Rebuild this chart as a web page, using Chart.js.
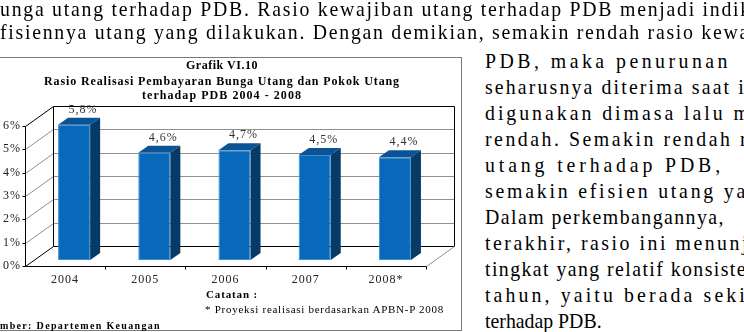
<!DOCTYPE html>
<html>
<head>
<meta charset="utf-8">
<script src="https://cdn.jsdelivr.net/npm/chart.js@4"></script>
<style>
  html, body { margin: 0; padding: 0; background: #fff; }
  body { width: 744px; height: 332px; position: relative; overflow: hidden; }
  .t { position: absolute; white-space: nowrap; color: #000; transform-origin: 0 50%; }
  #box { position: absolute; left: -2px; top: 57px; width: 462px; height: 272px; border: 1px solid #7a7a7a; }
  #chart { position: absolute; left: 0; top: 0; }
</style>
</head>
<body>
<div id="box"></div>
<canvas id="chart" width="462" height="332"></canvas>
<script>
// ── Chart data ───────────────────────────────────────────────────────────
const years = ["2004", "2005", "2006", "2007", "2008*"];
const ratios = [5.8, 4.6, 4.7, 4.5, 4.4];
const valueLabels = ["5,8%", "4,6%", "4,7%", "4,5%", "4,4%"];
const yTickValues = [0, 1, 2, 3, 4, 5, 6];

const titleLines = [
  "Grafik VI.10",
  "Rasio Realisasi Pembayaran Bunga Utang dan Pokok Utang",
  "terhadap PDB 2004 - 2008"
];
const noteTitle = "Catatan :";
const noteText = "* Proyeksi realisasi berdasarkan APBN-P 2008";
const sourceText = "mber: Departemen Keuangan";

// surrounding page text (scanned report)
const topLines = [
  "unga utang terhadap PDB. Rasio kewajiban utang terhadap PDB menjadi indik",
  "fisiennya utang yang dilakukan. Dengan demikian, semakin rendah rasio kewa"
];
const sideLines = [
  "PDB, maka penurunan",
  "seharusnya diterima saat i",
  "digunakan dimasa lalu m",
  "rendah. Semakin rendah r",
  "utang terhadap PDB,",
  "semakin efisien utang ya",
  "Dalam perkembangannya,",
  "terakhir, rasio ini menunj",
  "tingkat yang relatif konsiste",
  "tahun, yaitu berada seki",
  "terhadap PDB."
];
const sideRight = [731, 746, 752, 749, 724, 748, 725, 750, 747, 748, null];

// ── Text placement (scan is a bit condensed; letter-spacing fills the width)
function put(text, left, right, cy, size, bold, squeeze) {
  squeeze = squeeze || 1;
  const el = document.createElement("div");
  el.className = "t";
  el.textContent = text;
  el.style.font = (bold ? "bold " : "") + size + "px 'Liberation Serif'";
  el.style.lineHeight = (size * 1.2) + "px";
  el.style.top = (cy - size * 0.64) + "px";
  el.style.left = left + "px";
  document.body.appendChild(el);
  const w = el.getBoundingClientRect().width;
  if (right !== null) {
    el.style.letterSpacing = (((right - left) / squeeze - w) / text.length) + "px";
  }
  if (squeeze !== 1) el.style.transform = "scaleX(" + squeeze + ")";
  return el;
}

function putCentered(text, cx, width, cy, size, bold) {
  return put(text, cx - width / 2, cx + width / 2, cy, size, bold);
}

put(topLines[0], 0, 752, 10, 22, false, 0.9);
put(topLines[1], 0, 750, 33, 22, false, 0.9);
sideLines.forEach((s, i) => put(s, 485, sideRight[i], 62 + i * 26, 22, false, 0.9));

putCentered(titleLines[0], 222, 72, 66, 12, true);
putCentered(titleLines[1], 222, 356, 82, 12, true);
putCentered(titleLines[2], 222, 160, 96, 12, true);
put(noteTitle, 206, 258, 295, 11, true);
put(noteText, 205, 444, 310, 11, false);
put(sourceText, 0, 161, 326, 10, true);

// ── 3D room + bar faces ──────────────────────────────────────────────────
const DEPTH_X = 28, DEPTH_Y = -20;     // back wall offset
const SHIFT_X = 9, SHIFT_Y = -6;       // bar plane offset
const SIDE_X = 10, SIDE_Y = -7;        // bar depth

const FRONT = "#0868BA";
const TOP = "#0A5496";
const SIDE = "#053B66";

function line(ctx, pts, color) {
  ctx.beginPath();
  ctx.strokeStyle = color;
  pts.forEach(([x, y], i) => i ? ctx.lineTo(x, y) : ctx.moveTo(x, y));
  ctx.stroke();
}

function poly(ctx, pts, color) {
  ctx.beginPath();
  pts.forEach(([x, y], i) => i ? ctx.lineTo(x, y) : ctx.moveTo(x, y));
  ctx.closePath();
  ctx.fillStyle = color;
  ctx.fill();
}

const room3d = {
  id: "room3d",
  beforeDraw(chart) {
    chart.ctx.letterSpacing = "1px";
  },
  beforeDatasetsDraw(chart) {
    const ctx = chart.ctx, a = chart.chartArea, ys = chart.scales.y, xs = chart.scales.x;
    const L = Math.round(a.left) + 0.5, R = Math.round(a.right) + 0.5;
    ctx.save();
    ctx.lineWidth = 1;
    yTickValues.forEach(v => {
      const y = Math.round(ys.getPixelForValue(v)) + 0.5;
      const edge = v === 0 || v === 6;
      line(ctx, [[L, y], [L + DEPTH_X, y + DEPTH_Y], [R + DEPTH_X, y + DEPTH_Y]], edge ? "#000" : "#909090");
      line(ctx, [[L - 3, y], [L, y]], "#000");
    });
    const yTop = Math.round(ys.getPixelForValue(6)) + 0.5;
    const yBot = Math.round(ys.getPixelForValue(0)) + 0.5;
    line(ctx, [[L + DEPTH_X, yTop + DEPTH_Y], [L + DEPTH_X, yBot + DEPTH_Y]], "#000");
    line(ctx, [[R + DEPTH_X, yTop + DEPTH_Y], [R + DEPTH_X, yBot + DEPTH_Y]], "#000");
    line(ctx, [[R, yBot], [R + DEPTH_X, yBot + DEPTH_Y]], "#909090");
    line(ctx, [[L, yTop], [L, yBot], [R, yBot]], "#000");
    const half = (xs.getPixelForValue(1) - xs.getPixelForValue(0)) / 2;
    years.forEach((_, i) => {
      const x = Math.round(xs.getPixelForValue(i) + half) + 0.5;
      line(ctx, [[x, yBot], [x, yBot + 3]], "#000");
    });
    ctx.restore();
    ctx.save();
    ctx.translate(SHIFT_X, SHIFT_Y);
  },
  afterDatasetsDraw(chart) {
    const ctx = chart.ctx;
    const bars = chart.getDatasetMeta(0).data;
    bars.forEach(b => {
      const l = b.x - b.width / 2, r = b.x + b.width / 2;
      poly(ctx, [[l, b.y], [r, b.y], [r + SIDE_X, b.y + SIDE_Y], [l + SIDE_X, b.y + SIDE_Y]], TOP);
      poly(ctx, [[r, b.y], [r + SIDE_X, b.y + SIDE_Y], [r + SIDE_X, b.base + SIDE_Y], [r, b.base]], SIDE);
    });
    ctx.restore();
    ctx.save();
    ctx.font = "12px 'Liberation Serif'";
    ctx.fillStyle = "#333";
    ctx.textAlign = "center";
    ctx.textBaseline = "middle";
    bars.forEach((b, i) => {
      ctx.fillText(valueLabels[i], b.x + SHIFT_X * 2, b.y + SHIFT_Y - 15);
    });
    ctx.restore();
  }
};

new Chart(document.getElementById("chart"), {
  type: "bar",
  data: {
    labels: years,
    datasets: [{
      data: ratios,
      backgroundColor: FRONT,
      borderColor: "#3A8ED4",
      borderWidth: 1,
      borderSkipped: false,
      categoryPercentage: 1,
      barPercentage: 0.4,
    }]
  },
  options: {
    responsive: false,
    animation: false,
    layout: { padding: { top: 126, right: 36, bottom: 0, left: 0 } },
    plugins: { legend: { display: false }, tooltip: { enabled: false } },
    scales: {
      x: {
        grid: { display: false, drawTicks: false },
        border: { display: false },
        ticks: { color: "#222", padding: 7, font: { family: "'Liberation Serif'", size: 12 } },
        afterFit: s => { s.height = 66; }
      },
      y: {
        min: 0, max: 6,
        grid: { display: false, drawTicks: false },
        border: { display: false },
        ticks: { stepSize: 1, padding: 4, color: "#222", font: { family: "'Liberation Serif'", size: 12 }, callback: v => v + "%" },
        afterFit: s => { s.width = 25; }
      }
    }
  },
  plugins: [room3d]
});
</script>
</body>
</html>
